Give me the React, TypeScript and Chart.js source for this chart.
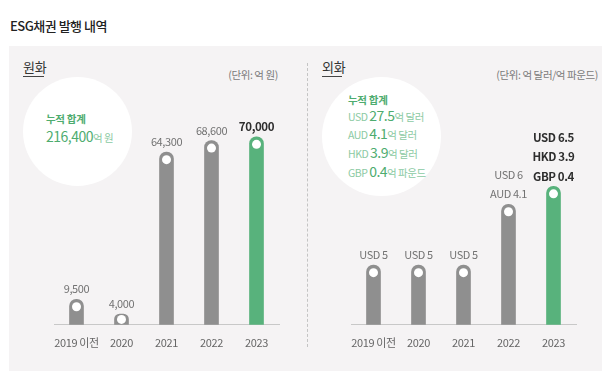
import React, { useEffect, useRef } from "react";
import { Chart, registerables } from "chart.js";

Chart.register(...registerables);

const FONT = "'Noto Sans CJK KR', 'Noto Sans', sans-serif";

const categories = ["2019 이전", "2020", "2021", "2022", "2023"];
const krwValues = [9500, 4000, 64300, 68600, 70000];
const krwLabels = [["9,500"], ["4,000"], ["64,300"], ["68,600"], ["70,000"]];
const fxTotals = [5, 5, 5, 10.1, 11.6];
const fxLabels = [
  ["USD 5"],
  ["USD 5"],
  ["USD 5"],
  ["USD 6", "AUD 4.1"],
  ["USD 6.5", "HKD 3.9", "GBP 0.4"],
];
const fxSummary = [
  ["USD", "27.5", "억 달러"],
  ["AUD", "4.1", "억 달러"],
  ["HKD", "3.9", "억 달러"],
  ["GBP", "0.4", "억 파운드"],
];

const GRAY = "#8f8f8f";
const GREEN = "#58b27c";
const SIDE = 30;

function BarChart(props: { values: number[]; labels: string[][]; yMax: number; left: number }) {
  const ref = useRef<HTMLCanvasElement | null>(null);
  useEffect(() => {
    if (!ref.current) return;
    const last = props.values.length - 1;
    const decor = {
      id: "decor",
      beforeDraw(chart: any) {
        chart.ctx.letterSpacing = "-0.4px";
      },
      afterDatasetsDraw(chart: any) {
        const ctx = chart.ctx;
        const meta = chart.getDatasetMeta(0);
        meta.data.forEach((bar: any, i: number) => {
          const { x, y } = bar.getProps(["x", "y"], true);
          const base = chart.chartArea.bottom;
          ctx.save();
          ctx.fillStyle = "#ffffff";
          ctx.beginPath();
          const dy = Math.min(7.5, (base - y) / 2);
          ctx.arc(x, y + dy, 4.5, 0, Math.PI * 2);
          ctx.fill();
          const lines = props.labels[i];
          const bold = i === last;
          ctx.font = `${bold ? 700 : 400} ${bold ? 11.5 : 11}px ${FONT}`;
          ctx.fillStyle = bold ? "#2e2e2e" : "#727272";
          ctx.textAlign = "center";
          ctx.textBaseline = "middle";
          lines.forEach((t: string, j: number) => {
            ctx.fillText(t, x, y - 10 - (lines.length - 1 - j) * 19.5);
          });
          ctx.restore();
        });
      },
    };
    const chart = new Chart(ref.current, {
      type: "bar",
      data: {
        labels: categories,
        datasets: [
          {
            data: props.values,
            backgroundColor: props.values.map((_, i) => (i === last ? GREEN : GRAY)),
            borderRadius: 7,
            borderSkipped: "start",
            barThickness: 14,
          },
        ],
      },
      options: {
        animation: false,
        responsive: false,
        devicePixelRatio: 1,
        layout: { padding: { top: 50, bottom: 0, left: SIDE, right: SIDE } },
        plugins: { legend: { display: false }, tooltip: { enabled: false } },
        scales: {
          x: {
            grid: { display: false, drawTicks: false, tickLength: 0 },
            border: { display: true, color: "#c8c8c8", width: 1 },
            ticks: {
              color: "#666",
              font: { size: 11, family: FONT },
              padding: 11,
              maxRotation: 0,
              autoSkip: false,
            },
          },
          y: { display: false, min: 0, max: props.yMax },
        },
      },
      plugins: [decor],
    } as any);
    return () => chart.destroy();
  }, []);
  return (
    <canvas
      ref={ref}
      width={225 + SIDE * 2}
      height={300}
      style={{
        position: "absolute",
        left: props.left - SIDE,
        top: 60,
        width: 225 + SIDE * 2,
        height: 300,
      }}
    />
  );
}

const abs = (left: number, cy: number, size: number, extra: any = {}) => ({
  position: "absolute" as const,
  left,
  top: cy - size * 0.7,
  lineHeight: `${size * 1.4}px`,
  fontSize: size,
  whiteSpace: "nowrap" as const,
  ...extra,
});

export default function App() {
  useEffect(() => {
    document.body.style.margin = "0";
  }, []);
  return (
    <div
      style={{
        position: "relative",
        width: 611,
        height: 389,
        background: "#ffffff",
        fontFamily: FONT,
        overflow: "hidden",
      }}
    >
      <div style={abs(10, 26, 13, { color: "#222", fontWeight: 500, letterSpacing: "-0.5px" })}>
        ESG채권 발행 내역
      </div>
      <div
        style={{
          position: "absolute",
          left: 9,
          top: 46,
          width: 593,
          height: 325,
          background: "#f5f3f4",
        }}
      />
      <div
        style={{
          position: "absolute",
          left: 307,
          top: 63,
          height: 284,
          borderLeft: "1px dashed #c4c4c4",
        }}
      />
      {/* left header */}
      <div style={abs(23, 67, 13, { color: "#333", letterSpacing: "-0.3px" })}>원화</div>
      <div style={{ position: "absolute", left: 23, top: 76, width: 21, height: 1, background: "#444" }} />
      <div
        style={abs(0, 75.5, 10.5, {
          left: undefined,
          right: 611 - 278,
          color: "#7a7a7a",
          letterSpacing: "-0.4px",
        })}
      >
        (단위: 억 원)
      </div>
      {/* right header */}
      <div style={abs(322, 67, 13, { color: "#333", letterSpacing: "-0.3px" })}>외화</div>
      <div style={{ position: "absolute", left: 322, top: 76, width: 20, height: 1, background: "#444" }} />
      <div
        style={abs(0, 75.5, 10.5, {
          left: undefined,
          right: 611 - 598,
          color: "#7a7a7a",
          letterSpacing: "-0.4px",
        })}
      >
        (단위: 억 달러/억 파운드)
      </div>
      {/* circles */}
      <div
        style={{
          position: "absolute",
          left: 23,
          top: 76.5,
          width: 109,
          height: 109,
          borderRadius: "50%",
          background: "#ffffff",
        }}
      />
      <div
        style={{
          position: "absolute",
          left: 322,
          top: 77,
          width: 119,
          height: 119,
          borderRadius: "50%",
          background: "#ffffff",
        }}
      />
      <div style={abs(46, 119.5, 10.5, { color: "#4eac6f", fontWeight: 700, letterSpacing: "-0.3px" })}>
        누적 합계
      </div>
      <div style={abs(46, 137, 14, { color: "#4eac6f", letterSpacing: "-0.5px" })}>
        216,400<span style={{ fontSize: 10.5, color: "#8ccaa3" }}>억 원</span>
      </div>
      <div style={abs(348, 100, 10.5, { color: "#4eac6f", fontWeight: 700, letterSpacing: "-0.3px" })}>
        누적 합계
      </div>
      {fxSummary.map((row, i) => (
        <div
          key={row[0]}
          style={abs(348, 115.5 + i * 18.6, 14, { color: "#4eac6f", letterSpacing: "-0.5px" })}
        >
          <span style={{ fontSize: 10.5, color: "#8ccaa3" }}>{row[0]} </span>
          {row[1]}
          <span style={{ fontSize: 10.5, color: "#8ccaa3" }}>{row[2]}</span>
        </div>
      ))}
      <BarChart values={krwValues} labels={krwLabels} yMax={80000} left={53.5} />
      <BarChart values={fxTotals} labels={fxLabels} yMax={18} left={350.5} />
    </div>
  );
}
